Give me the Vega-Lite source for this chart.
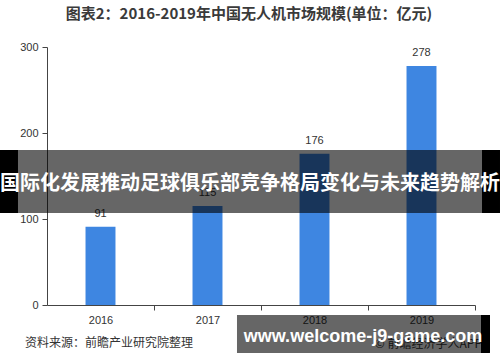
{
  "$schema": "https://vega.github.io/schema/vega-lite/v6.json",
  "width": 428,
  "height": 258,
  "autosize": {"type": "none"},
  "padding": {"left": 47, "top": 47, "right": 25, "bottom": 57},
  "background": "white",
  "config": {"view": {"stroke": null}, "font": "Noto Sans CJK SC"},
  "title": {
    "text": "图表2：2016-2019年中国无人机市场规模(单位：亿元)",
    "fontSize": 15,
    "fontWeight": "bold",
    "color": "#3a3a3a",
    "font": "Noto Sans CJK SC",
    "anchor": "middle",
    "dx": -12,
    "offset": 19
  },
  "layer": [
    {
      "data": {"values": [
        {"year": "2016", "value": 91},
        {"year": "2017", "value": 115},
        {"year": "2018", "value": 176},
        {"year": "2019", "value": 278}
      ]},
      "encoding": {
        "x": {
          "field": "year", "type": "ordinal",
          "scale": {"paddingInner": 0.72, "paddingOuter": 0.36},
          "axis": {
            "title": null, "labelAngle": 0, "labelFont": "Liberation Sans", "labelFontSize": 11,
            "labelColor": "#333", "domainColor": "#444", "tickColor": "#444", "tickSize": 5,
            "tickOffset": 53.5, "labelOffset": -53.5, "labelPadding": 4, "grid": false
          }
        },
        "y": {
          "field": "value", "type": "quantitative",
          "scale": {"domain": [0, 300], "nice": false},
          "axis": {
            "title": null, "values": [0, 100, 200, 300], "labelFont": "Liberation Sans", "labelFontSize": 11,
            "labelColor": "#333", "domainColor": "#444", "tickColor": "#444", "tickSize": 5,
            "labelPadding": 4, "grid": false
          }
        }
      },
      "layer": [
        {"mark": {"type": "bar", "color": "#3e86e1"}},
        {"mark": {"type": "text", "font": "Liberation Sans", "fontSize": 11, "color": "#333", "baseline": "middle", "dy": -13},
         "encoding": {"text": {"field": "value", "type": "quantitative"}}}
      ]
    },
    {
      "data": {"values": [{
        "source": "资料来源：前瞻产业研究院整理",
        "banner": "国际化发展推动足球俱乐部竞争格局变化与未来趋势解析",
        "site": "www.welcome-j9-game.com",
        "credit": "© 前瞻经济学人APP"
      }]},
      "layer": [
        {
          "mark": {"type": "text", "align": "left", "baseline": "middle", "fontSize": 12, "color": "#333"},
          "encoding": {
            "x": {"datum": -0.0514, "type": "quantitative", "scale": {"domain": [0, 1], "nice": false, "zero": false}, "axis": null},
            "y": {"datum": -44.2, "type": "quantitative", "scale": {"domain": [0, 300], "nice": false}, "axis": null},
            "text": {"field": "source"}
          }
        },
        {
          "mark": {"type": "rect", "color": "black", "opacity": 0.6},
          "encoding": {
            "x": {"datum": -0.1098, "type": "quantitative"},
            "x2": {"datum": 1.0584},
            "y": {"datum": 180.2, "type": "quantitative"},
            "y2": {"datum": 107}
          }
        },
        {
          "mark": {"type": "rect", "color": "black"},
          "encoding": {
            "x": {"datum": -0.1098, "type": "quantitative"},
            "x2": {"datum": -0.0678},
            "y": {"datum": 180.2, "type": "quantitative"},
            "y2": {"datum": 107}
          }
        },
        {
          "mark": {"type": "rect", "color": "black"},
          "encoding": {
            "x": {"datum": 1.0164, "type": "quantitative"},
            "x2": {"datum": 1.0584},
            "y": {"datum": 180.2, "type": "quantitative"},
            "y2": {"datum": 107}
          }
        },
        {
          "mark": {"type": "text", "align": "center", "baseline": "middle", "fontSize": 20, "fontWeight": "bold", "color": "white"},
          "encoding": {
            "x": {"datum": 0.4743, "type": "quantitative"},
            "y": {"datum": 140.7, "type": "quantitative"},
            "text": {"field": "banner"}
          }
        },
        {
          "mark": {"type": "text", "align": "right", "baseline": "alphabetic", "fontSize": 12, "color": "#333"},
          "encoding": {
            "x": {"datum": 1.0164, "type": "quantitative"},
            "y": {"datum": -49.5, "type": "quantitative"},
            "text": {"field": "credit"}
          }
        },
        {
          "mark": {"type": "rect", "color": "black", "opacity": 0.6},
          "encoding": {
            "x": {"datum": 0.4439, "type": "quantitative"},
            "x2": {"datum": 1.014},
            "y": {"datum": -11.6, "type": "quantitative"},
            "y2": {"datum": -55.8}
          }
        },
        {
          "mark": {"type": "rect", "color": "black"},
          "encoding": {
            "x": {"datum": 1.014, "type": "quantitative"},
            "x2": {"datum": 1.035},
            "y": {"datum": -11.6, "type": "quantitative"},
            "y2": {"datum": -55.8}
          }
        },
        {
          "mark": {"type": "text", "align": "center", "baseline": "alphabetic", "font": "Liberation Sans", "fontSize": 18, "fontWeight": "bold", "color": "white"},
          "encoding": {
            "x": {"datum": 0.7383, "type": "quantitative"},
            "y": {"datum": -43, "type": "quantitative"},
            "text": {"field": "site"}
          }
        }
      ]
    }
  ],
  "resolve": {"scale": {"x": "independent", "y": "independent"}}
}
